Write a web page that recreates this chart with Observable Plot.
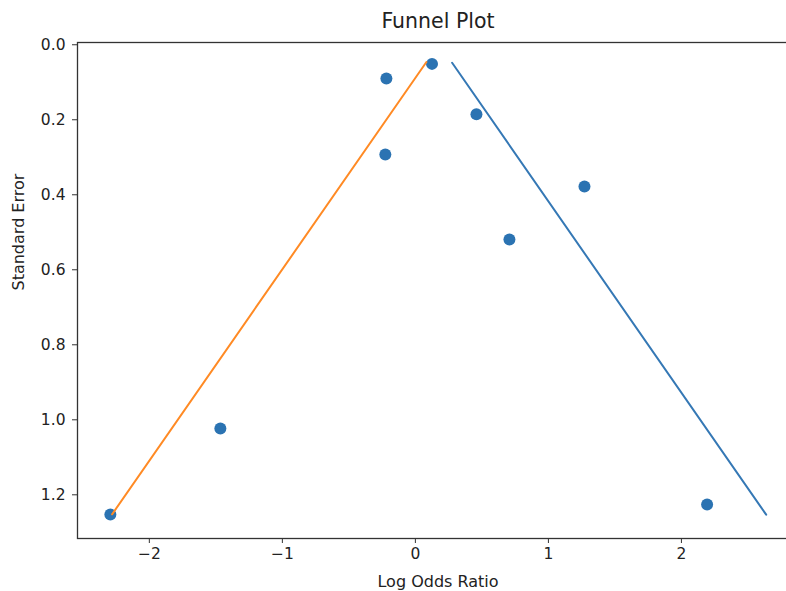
<!DOCTYPE html>
<html>
<head>
<meta charset="utf-8">
<script src="https://cdn.jsdelivr.net/npm/d3@7"></script>
<script src="https://cdn.jsdelivr.net/npm/@observablehq/plot@0.6"></script>
<style>
  html, body { margin: 0; padding: 0; background: #fff; overflow: hidden; }
  #chart { width: 786px; height: 591px; overflow: hidden; }
  #chart svg { max-width: none !important; }
</style>
</head>
<body>
<div id="chart"></div>
<script>
// Study estimates
const logOdds = [-2.293, -1.466, -0.218, -0.226, 0.125, 0.459, 0.707, 1.271, 2.193];
const stdErr  = [1.2525, 1.023, 0.090, 0.2925, 0.051, 0.185, 0.519, 0.378, 1.226];

// Funnel boundaries (endpoints)
const lowerX = [-2.28, 0.083];
const lowerY = [1.252, 0.046];
const upperX = [0.276, 2.637];
const upperY = [0.048, 1.253];

const yTicks = [0, 0.2, 0.4, 0.6, 0.8, 1.0, 1.2];
const xTicks = [-2, -1, 0, 1, 2];

const titleText = "Funnel Plot";
const xLabel = "Log Odds Ratio";
const yLabel = "Standard Error";

const points = logOdds.map((x, i) => ({x, y: stdErr[i]}));
const lower = lowerX.map((x, i) => ({x, y: lowerY[i]}));
const upper = upperX.map((x, i) => ({x, y: upperY[i]}));

const font = "DejaVu Sans, sans-serif";

const chart = Plot.plot({
  width: 798,
  height: 591,
  marginLeft: 77,
  marginRight: 0,
  marginTop: 42,
  marginBottom: 53,
  style: {fontFamily: font, background: "#fff", color: "#222", maxWidth: "none"},
  x: {domain: [-2.54, 2.88]},
  y: {domain: [-0.006, 1.3165], reverse: true},
  marks: [
    Plot.frame({stroke: "#333", strokeWidth: 1.3}),
    Plot.axisX({ticks: xTicks, tickSize: 5, tickPadding: 4, fontSize: 15.5, tickFormat: d3.format("d"), label: null, stroke: "#333", fill: "#222"}),
    Plot.axisY({ticks: yTicks, tickSize: 5, tickPadding: 7, fontSize: 15.5, tickFormat: d3.format(".1f"), label: null, stroke: "#333", fill: "#222"}),
    Plot.dot(points, {x: "x", y: "y", r: 6, fill: "#2b73b2", stroke: "none"}),
    Plot.line(lower, {x: "x", y: "y", stroke: "#ff8a24", strokeWidth: 2}),
    Plot.line(upper, {x: "x", y: "y", stroke: "#3578b5", strokeWidth: 2}),
    Plot.text([titleText], {frameAnchor: "top", dy: -21, fontSize: 20.5, fill: "#222", lineAnchor: "middle"}),
    Plot.text([xLabel], {frameAnchor: "bottom", dy: 43, fontSize: 16, fill: "#222", lineAnchor: "middle"}),
    Plot.text([yLabel], {frameAnchor: "left", dx: -59, rotate: -90, fontSize: 16, fill: "#222", lineAnchor: "middle"})
  ]
});
document.getElementById("chart").appendChild(chart);
</script>
</body>
</html>
